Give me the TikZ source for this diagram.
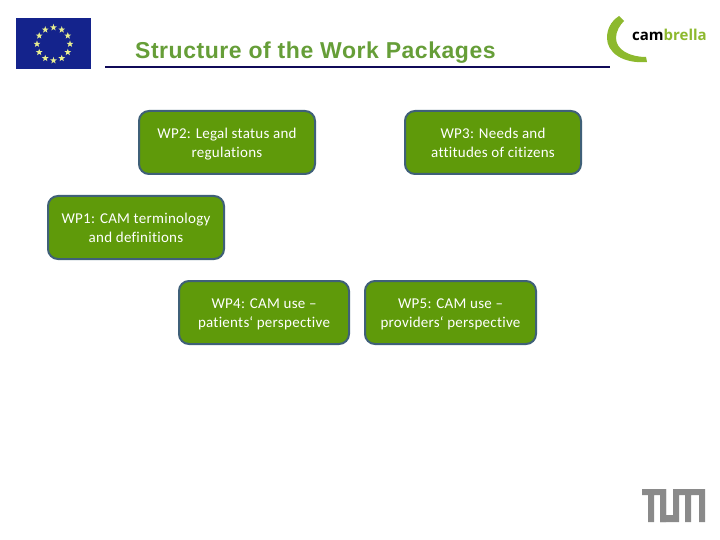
\documentclass[tikz,border=0pt]{standalone}
\usepackage{fontspec}
\setmainfont[LetterSpace=1.8,Ligatures=NoCommon]{Carlito}
\newfontfamily\arialf[LetterSpace=2.3]{Liberation Sans}
\newfontfamily\logof{Open Sans}
\definecolor{wpgreen}{HTML}{5F9A0A}
\definecolor{wpedge}{HTML}{3F6078}
\definecolor{eublue}{HTML}{14238C}
\definecolor{eustar}{HTML}{E8EE90}
\definecolor{titlegreen}{HTML}{669E38}
\definecolor{rulenavy}{HTML}{100A58}
\definecolor{camgreen}{HTML}{8DB92E}
\definecolor{tumgray}{HTML}{8A8A8A}
\usetikzlibrary{shapes.geometric}
\newcommand{\twolines}[2]{\rule{0pt}{\dimexpr\ht\strutbox+4pt\relax}#1\\#2\strut}
\tikzset{
  wpbox/.style={draw=wpedge,line width=2pt,fill=wpgreen,rounded corners=10pt,text=white,
    align=center,anchor=center,font=\fontsize{15}{19}\selectfont,inner sep=0pt},
  eustarshape/.style={star,star points=5,star point ratio=2.4,minimum size=7pt,inner sep=0pt,fill=eustar,draw=none}
}
\begin{document}
\begin{tikzpicture}[x=1pt,y=-1pt]
\useasboundingbox (0,0) rectangle (720,540);
\fill[white] (0,0) rectangle (720,540);
% flag
\fill[eublue] (16,18) rectangle (91,69);
\foreach \a in {0,30,...,330}{
  \node[eustarshape] (s\a) at ({53.5+16.5*cos(\a)},{44+16.5*sin(\a)}) {};
}
% title
\node[anchor=base west,inner sep=0pt,text=titlegreen,font=\arialf\bfseries\fontsize{23}{26}\selectfont] (title) at (135,59) {Structure of the Work Packages};
\coordinate (ruleL) at (105,67.5);
\coordinate (ruleR) at (610,67.5);
\draw[rulenavy,line width=2pt] (ruleL) -- (ruleR);
% cambrella logo
\fill[camgreen] (619,16) .. controls (610,22) and (607,30) .. (607,38)
  .. controls (607,52) and (622,64) .. (647,62)
  -- (646,57) .. controls (630,57) and (616,50) .. (616,38)
  .. controls (616,31) and (620,25) .. (624,21) -- cycle;
\node[anchor=base west,inner sep=0pt,font=\logof\bfseries\fontsize{15}{18}\selectfont] (cam) at (632,41) {cam\textcolor{camgreen}{brella}};
% boxes
\node[wpbox,minimum width=176pt,minimum height=63pt] (wp2) at (227,142.5) {\twolines{WP2: Legal status and}{regulations}};
\node[wpbox,minimum width=176pt,minimum height=63pt] (wp3) at (493,142.5) {\twolines{WP3: Needs and}{attitudes of citizens}};
\node[wpbox,minimum width=176pt,minimum height=63pt] (wp1) at (136,227.5) {\twolines{WP1: CAM terminology}{and definitions}};
\node[wpbox,minimum width=170pt,minimum height=63pt] (wp4) at (264,312.5) {\twolines{WP4: CAM use --}{patients‘ perspective}};
\node[wpbox,minimum width=171pt,minimum height=63pt] (wp5) at (450.5,312.5) {\twolines{WP5: CAM use --}{providers‘ perspective}};
% TUM logo
\fill[tumgray] (642,489) -- (666,489) -- (666,522) -- (660,522) -- (660,495) -- (654,495) -- (654,522) -- (648,522) -- (648,495) -- (642,495) -- cycle;
\fill[tumgray] (660,489) -- (666,489) -- (666,515) -- (673,515) -- (673,489) -- (705,489) -- (705,522) -- (699,522) -- (699,495) -- (691,495) -- (691,522) -- (685,522) -- (685,495) -- (679,495) -- (679,522) -- (660,522) -- cycle;
\end{tikzpicture}
\end{document}
